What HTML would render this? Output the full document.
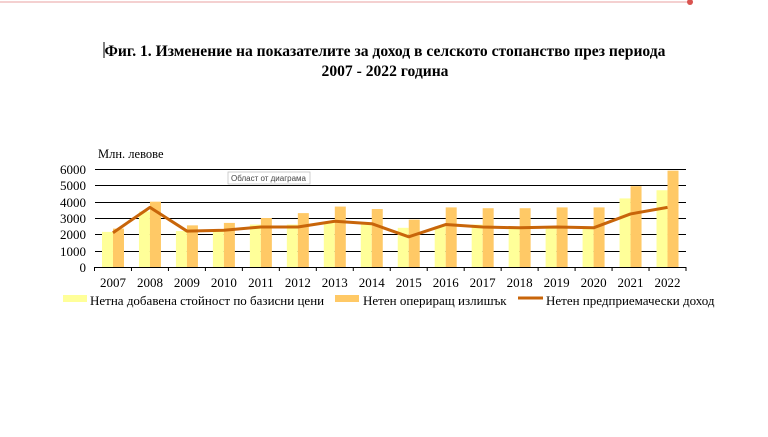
<!DOCTYPE html>
<html><head><meta charset="utf-8"><style>
body{margin:0;width:768px;height:432px;background:#fff;overflow:hidden;font-family:"Liberation Serif",serif;}
</style></head><body>
<svg width="768" height="432" xmlns="http://www.w3.org/2000/svg" font-family="Liberation Serif, serif">
<line x1="0" y1="2" x2="690" y2="2" stroke="#e8a0a0" stroke-width="1"/>
<circle cx="690" cy="2" r="3" fill="#d9534f"/>
<line x1="104" y1="42" x2="104" y2="58" stroke="#000" stroke-width="1"/>
<text x="385" y="56" font-size="15.6" font-weight="bold" text-anchor="middle">Фиг. 1. Изменение на показателите за доход в селското стопанство през периода</text>
<text x="385" y="76" font-size="15.6" font-weight="bold" text-anchor="middle">2007 - 2022 година</text>
<text x="98" y="158" font-size="12.5">Млн. левове</text>
<g stroke="#000" stroke-width="1">
<line x1="95" y1="169.5" x2="686" y2="169.5"/>
<line x1="95" y1="185.5" x2="686" y2="185.5"/>
<line x1="95" y1="202.5" x2="686" y2="202.5"/>
<line x1="95" y1="218.5" x2="686" y2="218.5"/>
<line x1="95" y1="234.5" x2="686" y2="234.5"/>
<line x1="95" y1="251.5" x2="686" y2="251.5"/>
</g>
<g font-size="13" text-anchor="end">
<text x="86" y="174">6000</text><text x="86" y="190">5000</text><text x="86" y="207">4000</text>
<text x="86" y="223">3000</text><text x="86" y="239">2000</text><text x="86" y="256">1000</text><text x="86" y="272">0</text>
</g>
<g id="bars"></g>
<line x1="95" y1="267.5" x2="686" y2="267.5" stroke="#000"/>
<g id="ticks" stroke="#000"></g>
<g id="labels" font-size="13" text-anchor="middle"></g>
<polyline id="line" fill="none" stroke="#c8650a" stroke-width="3" stroke-linejoin="round"/>
<rect x="228" y="172" width="82" height="12" fill="#fff" stroke="#bbb" stroke-width="0.7"/>
<text x="231" y="181" font-size="8" font-family="Liberation Sans, sans-serif" fill="#444">Област от диаграма</text>
<rect x="63" y="295" width="24" height="7" fill="#ffff99"/>
<text x="90" y="305" font-size="13">Нетна добавена стойност по базисни цени</text>
<rect x="335" y="295" width="24" height="7" fill="#ffc966"/>
<text x="363" y="305" font-size="13">Нетен опериращ излишък</text>
<line x1="518" y1="298" x2="543" y2="298" stroke="#c8650a" stroke-width="3"/>
<text x="546" y="305" font-size="13">Нетен предприемачески доход</text>
</svg>
<script>
var L=[2150,3400,2200,2200,2600,2600,2700,2600,2400,2500,2600,2400,2400,2400,4200,4700];
var D=[2350,4000,2550,2700,3000,3300,3700,3550,2900,3650,3600,3600,3650,3650,4950,5900];
var N=[2100,3650,2200,2250,2450,2450,2800,2650,1850,2600,2450,2400,2450,2400,3250,3650];
var ns="http://www.w3.org/2000/svg",x0=94.5,w=(686-94.5)/16,y0=267,s=16.33/1000;
var b=document.getElementById("bars"),t=document.getElementById("ticks"),lb=document.getElementById("labels"),pts=[];
function el(n,a,p){var e=document.createElementNS(ns,n);for(var k in a)e.setAttribute(k,a[k]);p.appendChild(e);return e;}
for(var i=0;i<16;i++){var c=x0+w*(i+0.5);
el("rect",{x:c-11,y:y0-L[i]*s,width:11,height:L[i]*s,fill:"#ffff99"},b);
el("rect",{x:c,y:y0-D[i]*s,width:11,height:D[i]*s,fill:"#ffc966"},b);
pts.push(c+","+(y0-N[i]*s));
var tx=x0+w*i;el("line",{x1:tx,y1:267,x2:tx,y2:271},t);
el("text",{x:c,y:287},lb).textContent=2007+i;}
el("line",{x1:686,y1:267,x2:686,y2:271},t);
document.getElementById("line").setAttribute("points",pts.join(" "));
</script>
</body></html>
